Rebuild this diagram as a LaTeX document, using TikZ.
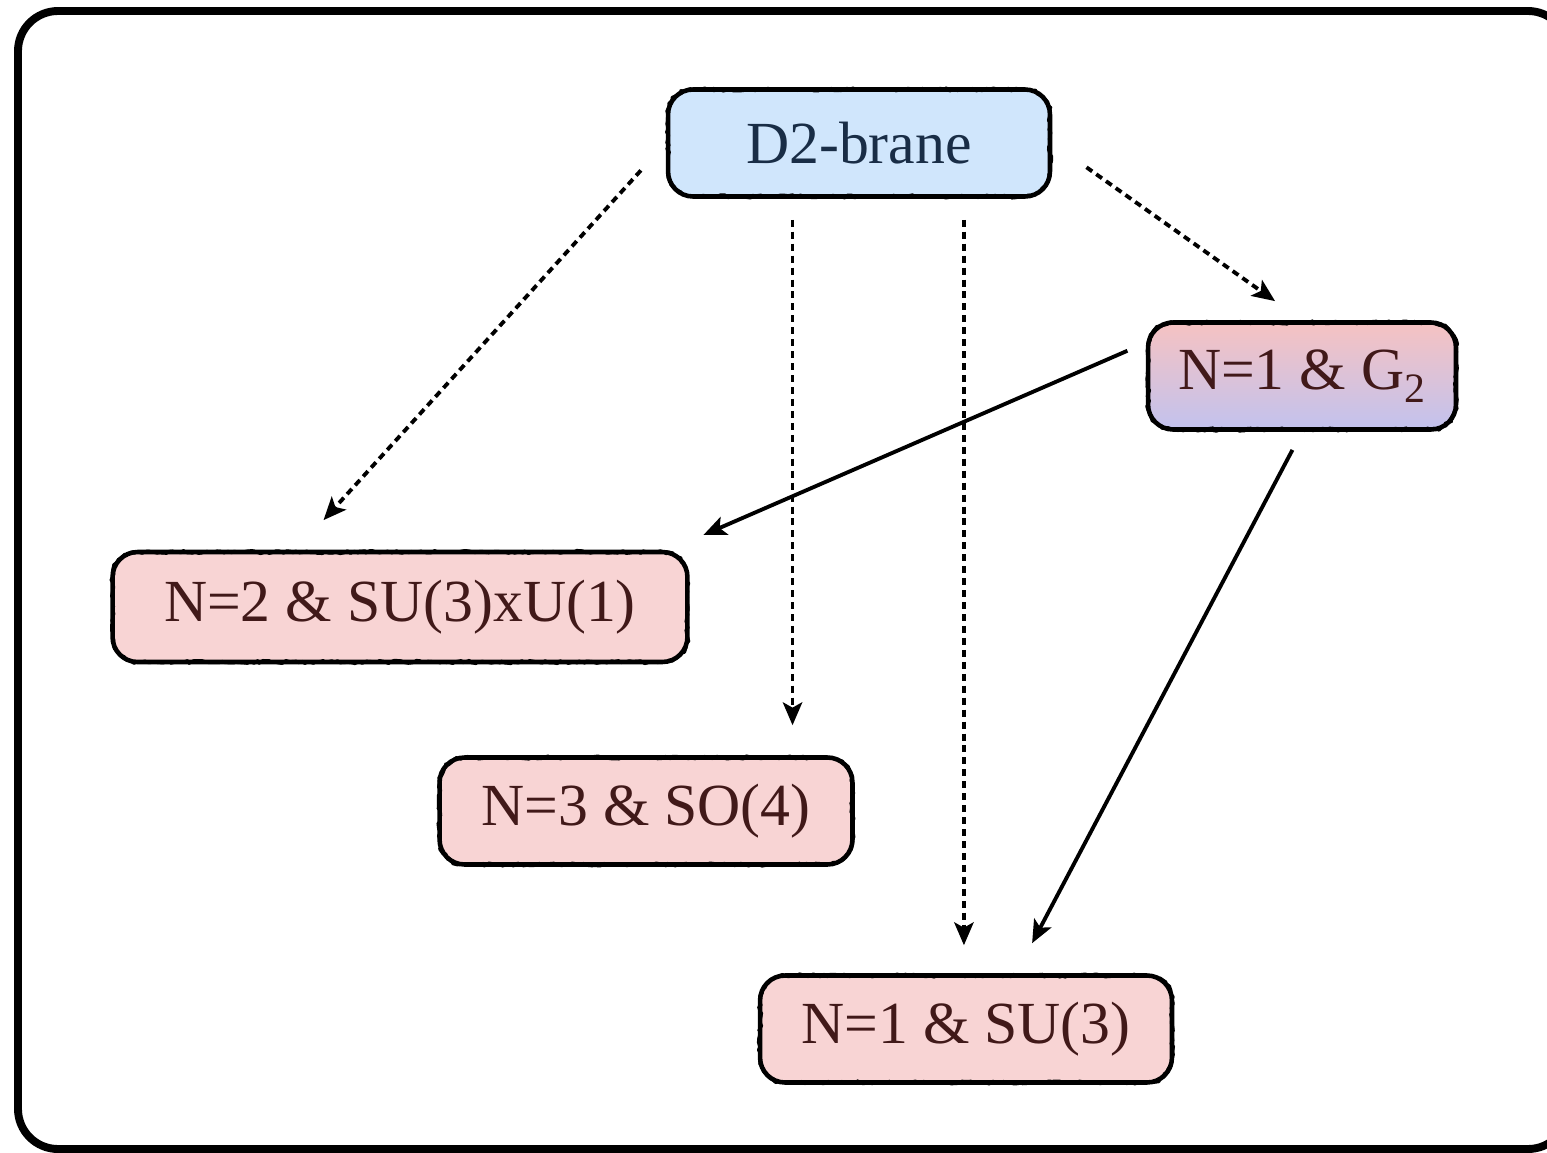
\documentclass[tikz,border=0pt]{standalone}
\usepackage{fontspec}
\setmainfont{Liberation Serif}
\usepackage{xcolor}
\usetikzlibrary{arrows.meta,decorations.pathmorphing}
\definecolor{braneblue}{RGB}{208,230,252}
\definecolor{branetext}{RGB}{25,45,70}
\definecolor{susypink}{RGB}{248,212,212}
\definecolor{susytext}{RGB}{65,25,25}
\definecolor{gtwotop}{RGB}{246,194,194}
\definecolor{gtwobot}{RGB}{194,194,238}

\begin{document}
\begin{tikzpicture}[x=0.02cm, y=-0.02cm,
  box/.style={draw=black, line width=2.6pt, rounded corners=0.5cm, inner sep=0pt,
    font=\fontsize{34}{40}\selectfont, minimum height=2.14cm,
    postaction={draw=black, sharp corners, line width=1.6pt, line join=round, decorate,
      decoration={random steps, segment length=2pt, amplitude=1pt}}},
  susybox/.style={box, fill=susypink, text=susytext},
  dasharrow/.style={line width=2.2pt, dash pattern=on 4pt off 2.8pt,
    -{Stealth[length=13pt, width=11pt, inset=3pt]}},
  fullarrow/.style={line width=2.2pt, -{Stealth[length=13pt, width=11pt, inset=3pt]}}]
\useasboundingbox (0,0) rectangle (1547,1152);
\clip (0,0) rectangle (1547,1152);
\draw[line width=4.5pt, rounded corners=0.8cm] (18,11) rectangle (1568,1149);

\node[box, fill=braneblue, text=branetext, minimum width=7.64cm] (d2) at (859,143) {D2-brane};
\node[box, top color=gtwotop, bottom color=gtwobot, middle color=gtwotop!50!gtwobot,
  text=susytext, minimum width=6.16cm] (g2) at (1302,376) {N=1 \& G\textsubscript{2}};
\node[susybox, minimum width=11.5cm, minimum height=2.2cm] (n2) at (400,607) {N=2 \& SU(3)xU(1)};
\node[susybox, minimum width=8.26cm] (n3) at (646,811) {N=3 \& SO(4)};
\node[susybox, minimum width=8.24cm] (n1) at (966,1029) {N=1 \& SU(3)};

\draw[dasharrow, shorten <=0.74cm, shorten >=0.8cm] (d2.west) -- (n2.151);
\draw[dasharrow, shorten <=0.42cm, shorten >=0.6cm] (d2.220) -- (d2.220 |- n3.north);
\draw[dasharrow, shorten <=0.42cm, shorten >=0.56cm] (d2.332) -- (d2.332 |- n1.north);
\draw[dasharrow, shorten <=0.84cm, shorten >=0.66cm] (d2.east) -- (g2.north);
\draw[fullarrow, shorten <=0.4cm, shorten >=0.74cm] (g2.168) -- (n2.12);
\draw[fullarrow, shorten <=0.41cm, shorten >=0.68cm] (g2.south) -- (n1.48);
\end{tikzpicture}
\end{document}
